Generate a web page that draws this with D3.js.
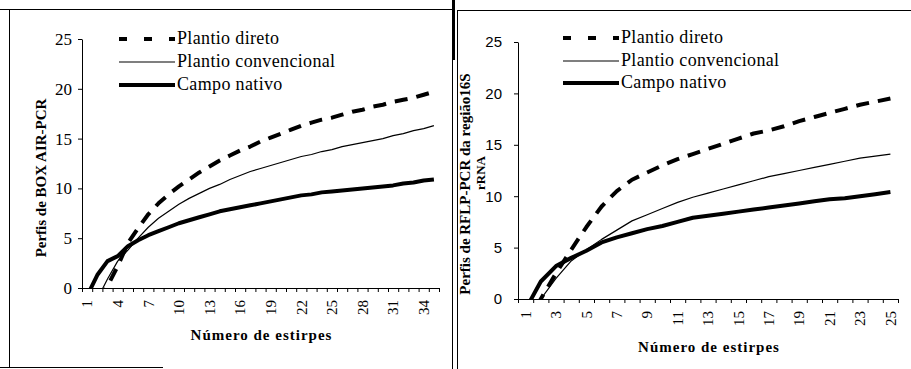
<!DOCTYPE html>
<html>
<head>
<meta charset="utf-8">
<script src="https://cdn.jsdelivr.net/npm/d3@7"></script>
<style>
  body { margin: 0; background: #fff; }
  svg { display: block; }
</style>
</head>
<body>
<div id="grafico"></div>
<script>
// Categorias (número de estirpes)
const catsBox = ["1","2","3","4","5","6","7","8","9","10","11","12","13","14","15","16","17","18",
  "19","20","21","22","23","24","25","26","27","28","29","30","31","32","33","34","35"]
const catsRflp = ["1","2","3","4","5","6","7","8","9","10","11","12","13","14","15","16","17",
  "18","19","20","21","22","23","24","25"]

const ticksBox = ["1","4","7","10","13","16","19","22","25","28","31","34"]
const ticksRflp = ["1","3","5","7","9","11","13","15","17","19","21","23","25"]
const yTicks = [0, 5, 10, 15, 20, 25]

const legendNames = ["Plantio direto", "Plantio convencional", "Campo nativo"]

// BOX AIR-PCR
const boxDireto = [-3.0, -1.5, 0.2, 2.2, 4.5, 6.0, 7.4, 8.5, 9.4, 10.2, 10.9, 11.6, 12.2, 12.8, 13.3,
  13.8, 14.2, 14.7, 15.1, 15.5, 15.9, 16.3, 16.6, 16.9, 17.1, 17.4, 17.7, 17.9, 18.2, 18.4, 18.7,
  18.9, 19.1, 19.4, 19.7]
const boxConvencional = [-3.0, -1.1, 0.9, 2.7, 3.8, 5.0, 6.1, 7.0, 7.7, 8.4, 9.0, 9.5, 10.0, 10.4,
  10.9, 11.3, 11.7, 12.0, 12.3, 12.6, 12.9, 13.2, 13.4, 13.7, 13.9, 14.2, 14.4, 14.6, 14.8, 15.0,
  15.3, 15.5, 15.8, 16.0, 16.3]
const boxNativo = [-0.8, 1.3, 2.7, 3.2, 4.2, 4.8, 5.3, 5.7, 6.1, 6.5, 6.8, 7.1, 7.4, 7.7, 7.9, 8.1,
  8.3, 8.5, 8.7, 8.9, 9.1, 9.3, 9.4, 9.6, 9.7, 9.8, 9.9, 10.0, 10.1, 10.2, 10.3, 10.5, 10.6, 10.8, 10.9]

// RFLP-PCR 16S rRNA
const rflpDireto = [-2.5, 0.0, 2.5, 4.8, 7.0, 9.0, 10.5, 11.6, 12.3, 13.0, 13.6, 14.1, 14.6, 15.1,
  15.6, 16.1, 16.4, 16.8, 17.3, 17.7, 18.1, 18.5, 18.9, 19.2, 19.5]
const rflpConvencional = [-2.0, 0.0, 2.0, 3.7, 4.8, 5.8, 6.7, 7.6, 8.2, 8.8, 9.4, 9.9, 10.3, 10.7,
  11.1, 11.5, 11.9, 12.2, 12.5, 12.8, 13.1, 13.4, 13.7, 13.9, 14.1]
const rflpNativo = [-1.0, 1.7, 3.2, 4.0, 4.7, 5.5, 6.0, 6.4, 6.8, 7.1, 7.5, 7.9, 8.1, 8.3, 8.5, 8.7,
  8.9, 9.1, 9.3, 9.5, 9.7, 9.8, 10.0, 10.2, 10.4]

// estilos das series: tracejado, fino, grosso
const estilos = [
  {width: 4, dash: "13,9", legendDash: "8,17"},
  {width: 1.2, dash: null, legendDash: null},
  {width: 4, dash: null, legendDash: null}
]

const serif = "'Liberation Serif', 'Times New Roman', serif"
const sans = "'Liberation Sans', Arial, sans-serif"

const svg = d3.select("#grafico")
  .append("svg")
    .attr("width", 911)
    .attr("height", 369)

svg.append("rect").attr("width", 911).attr("height", 369).attr("fill", "#fff")

// Molduras (restos do scan)
const frame = svg.append("g").attr("stroke", "#000").attr("fill", "none")
frame.append("line").attr("x1", 0).attr("x2", 452).attr("y1", 9.5).attr("y2", 9.5).attr("stroke-width", 1)
frame.append("line").attr("x1", 9.5).attr("x2", 9.5).attr("y1", 9).attr("y2", 368).attr("stroke-width", 1)
frame.append("line").attr("x1", 0).attr("x2", 163).attr("y1", 367.5).attr("y2", 367.5).attr("stroke-width", 1)
frame.append("line").attr("x1", 453.5).attr("x2", 453.5).attr("y1", 0).attr("y2", 60).attr("stroke-width", 3)
frame.append("line").attr("x1", 452.5).attr("x2", 452.5).attr("y1", 60).attr("y2", 369).attr("stroke-width", 1)
frame.append("line").attr("x1", 457.5).attr("x2", 457.5).attr("y1", 10).attr("y2", 369).attr("stroke-width", 1)
frame.append("line").attr("x1", 457).attr("x2", 911).attr("y1", 10.5).attr("y2", 10.5).attr("stroke-width", 1)

function painel(cfg) {
  const g = svg.append("g")

  const x = d3.scaleBand()
    .domain(cfg.cats)
    .range([cfg.left, cfg.right])
  const xb = d3.scaleLinear()
    .domain([0, cfg.cats.length])
    .range([cfg.left, cfg.right])
  const y = d3.scaleLinear()
    .domain([0, 25])
    .range([cfg.bottom, cfg.top])

  // eixo y
  const yAxis = g.append("g")
    .attr("transform", `translate(${cfg.left},0)`)
    .call(d3.axisLeft(y).tickValues(yTicks).tickSize(4).tickSizeOuter(0).tickPadding(cfg.yPad))
  yAxis.selectAll("text")
    .attr("font-family", cfg.yFont)
    .attr("font-size", cfg.ySize)
    .attr("fill", "#000")

  // eixo x: marcas entre categorias
  const xAxis = g.append("g")
    .attr("transform", `translate(0,${cfg.bottom})`)
    .call(d3.axisBottom(xb).tickValues(d3.range(cfg.cats.length + 1)).tickSize(4).tickSizeOuter(0).tickFormat(""))

  // rotulos x rotacionados
  const xLab = g.append("g")
    .attr("transform", `translate(0,${cfg.bottom})`)
    .call(d3.axisBottom(x).tickValues(cfg.tickLabels).tickSize(0))
  xLab.select(".domain").remove()
  xLab.selectAll("text")
    .attr("font-family", serif)
    .attr("font-size", 15)
    .attr("fill", "#000")
    .attr("transform", "rotate(-90)")
    .attr("text-anchor", "end")
    .attr("x", -cfg.xLabOff)
    .attr("y", 0)
    .attr("dy", "0.35em")

  g.selectAll(".domain, .tick line").attr("stroke", "#000").attr("stroke-width", 1)

  // titulos
  g.append("text")
    .attr("x", (cfg.left + cfg.right) / 2 + cfg.xTitleShift)
    .attr("y", cfg.xTitleY)
    .attr("text-anchor", "middle")
    .attr("font-family", serif)
    .attr("font-weight", "bold")
    .attr("font-size", 15)
    .attr("letter-spacing", "1px")
    .text("Número de estirpes")

  cfg.yTitle.forEach((t, i) => {
    g.append("text")
      .attr("transform", `translate(${cfg.yTitleX[i]},${cfg.yTitleY[i]}) rotate(-90)`)
      .attr("text-anchor", "middle")
      .attr("dy", "0.35em")
      .attr("font-family", serif)
      .attr("font-weight", "bold")
      .attr("font-size", cfg.yTitleSize[i])
      .text(t)
  })

  // linhas
  const clipId = "clip" + cfg.id
  svg.append("clipPath").attr("id", clipId)
    .append("rect")
      .attr("x", cfg.left).attr("y", cfg.top - 10)
      .attr("width", cfg.right - cfg.left + 5).attr("height", cfg.bottom - cfg.top + 10)

  const line = d3.line()
    .x((d, i) => x(cfg.cats[i]) + x.bandwidth() / 2)
    .y(d => y(d))

  cfg.series.forEach((s, i) => {
    g.append("path")
      .datum(s)
      .attr("clip-path", `url(#${clipId})`)
      .attr("fill", "none")
      .attr("stroke", "#000")
      .attr("stroke-width", estilos[i].width)
      .attr("stroke-dasharray", estilos[i].dash)
      .attr("stroke-linejoin", "round")
      .attr("d", line)
  })

  // legenda
  const leg = g.append("g")
  legendNames.forEach((nome, i) => {
    const ly = cfg.legY[i]
    leg.append("line")
      .attr("x1", cfg.legX).attr("x2", cfg.legX + 56)
      .attr("y1", ly).attr("y2", ly)
      .attr("stroke", "#000")
      .attr("stroke-width", estilos[i].width)
      .attr("stroke-dasharray", estilos[i].legendDash)
    leg.append("text")
      .attr("x", cfg.legX + 58)
      .attr("y", ly + 5)
      .attr("font-family", serif)
      .attr("font-size", 18)
      .attr("letter-spacing", "0.35px")
      .text(nome)
  })
}

painel({
  id: "box", cats: catsBox, tickLabels: ticksBox,
  left: 82, right: 439, top: 39, bottom: 288,
  yFont: serif, ySize: 17, yPad: 6, xLabOff: 12,
  xTitleY: 340, xTitleShift: 1,
  yTitle: ["Perfis de BOX AIR-PCR"], yTitleX: [41], yTitleY: [178], yTitleSize: [15],
  series: [boxDireto, boxConvencional, boxNativo],
  legX: 119, legY: [39, 62, 85]
})

painel({
  id: "rflp", cats: catsRflp, tickLabels: ticksRflp,
  left: 518, right: 898, top: 42, bottom: 299,
  yFont: sans, ySize: 15, yPad: 12, xLabOff: 12,
  xTitleY: 352, xTitleShift: 1,
  yTitle: ["Perfis de RFLP-PCR da região16S", "rRNA"], yTitleX: [465, 480], yTitleY: [184, 173], yTitleSize: [15, 13],
  series: [rflpDireto, rflpConvencional, rflpNativo],
  legX: 563, legY: [38, 61, 83]
})
</script>
</body>
</html>
